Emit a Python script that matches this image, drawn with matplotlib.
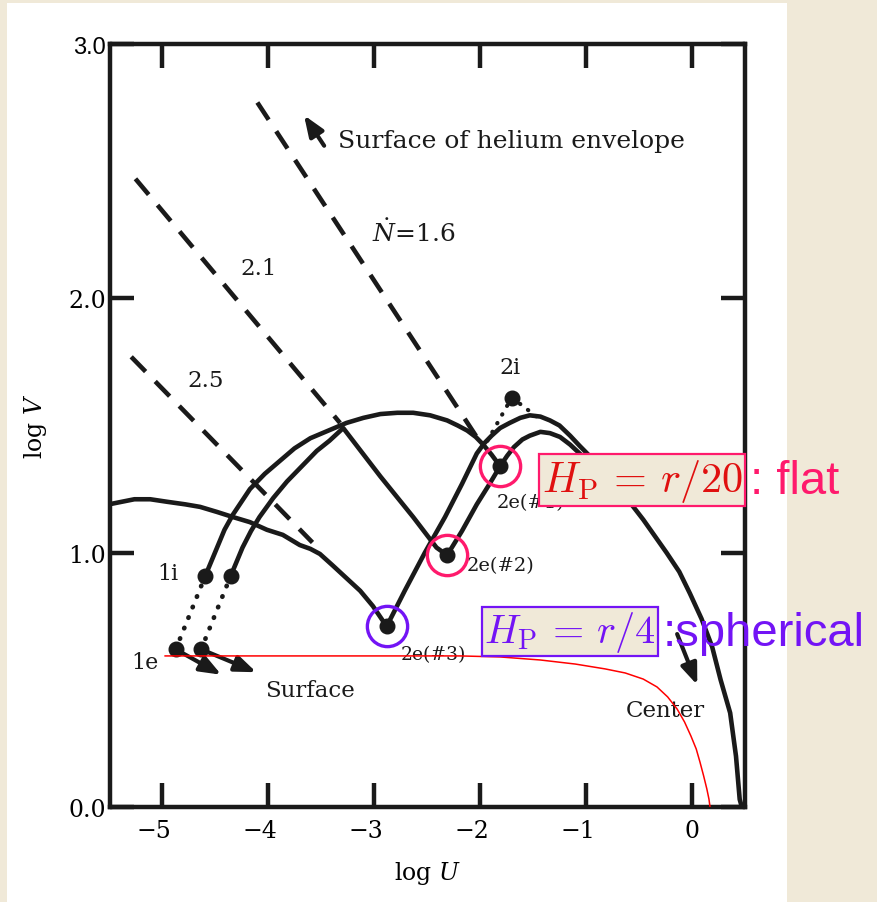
import matplotlib
matplotlib.use("Agg")
import matplotlib.pyplot as plt
from matplotlib.patches import Rectangle
from matplotlib.transforms import ScaledTranslation

# Envelope branches (log U, log V)
env3_logu = [-5.50, -5.38, -5.26, -5.11, -4.95, -4.78, -4.64, -4.48, -4.33, -4.17,
             -4.01, -3.86, -3.70, -3.60, -3.51, -3.39, -3.26, -3.13, -3.01, -2.88]
env3_logv = [1.19, 1.20, 1.21, 1.21, 1.20, 1.19, 1.18, 1.16, 1.14, 1.12,
             1.09, 1.07, 1.03, 1.015, 0.995, 0.95, 0.90, 0.85, 0.79, 0.71]

env1_logu = [-4.59, -4.53, -4.48, -4.41, -4.33, -4.25, -4.17, -4.03, -3.89, -3.75, -3.60, -3.43,
             -3.26, -3.10, -2.94, -2.78, -2.63, -2.47, -2.31, -2.21, -2.12, -2.04, -1.97, -1.89, -1.81]
env1_logv = [0.91, 0.97, 1.02, 1.09, 1.15, 1.20, 1.25, 1.31, 1.36, 1.41, 1.45, 1.48,
             1.51, 1.53, 1.545, 1.55, 1.55, 1.54, 1.52, 1.50, 1.48, 1.455, 1.425, 1.385, 1.34]

env2_logu = [-4.35, -4.29, -4.24, -4.16, -4.08, -3.95, -3.82, -3.68, -3.54, -3.42, -3.29,
             -2.94, -2.63, -2.41, -2.31]
env2_logv = [0.91, 0.97, 1.02, 1.085, 1.14, 1.215, 1.28, 1.34, 1.40, 1.44, 1.49,
             1.30, 1.14, 1.02, 0.99]

# Core branches from 2e towards the center
core3_logu = [-2.88, -2.71, -2.52, -2.33, -2.17, -2.03, -1.96, -1.89, -1.81, -1.72, -1.62,
              -1.53, -1.43, -1.34, -1.25, -1.15, -1.06, -0.93, -0.80, -0.68, -0.59, -0.46,
              -0.35, -0.24, -0.12, -0.02, 0.09, 0.19, 0.27, 0.36, 0.415, 0.45, 0.47]
core3_logv = [0.71, 0.85, 1.00, 1.14, 1.27, 1.39, 1.43, 1.46, 1.49, 1.51, 1.53,
              1.54, 1.535, 1.52, 1.50, 1.46, 1.42, 1.365, 1.305, 1.245, 1.20, 1.13,
              1.065, 1.00, 0.925, 0.84, 0.74, 0.63, 0.50, 0.37, 0.20, 0.03, 0.0]

core2_logu = [-2.31, -2.17, -2.03, -1.91, -1.81, -1.745, -1.68, -1.60, -1.53, -1.43,
              -1.34, -1.245, -1.15, -1.06, -0.94, -0.82]
core2_logv = [0.99, 1.085, 1.19, 1.27, 1.34, 1.38, 1.415, 1.445, 1.46, 1.475,
              1.47, 1.455, 1.425, 1.39, 1.345, 1.30]

# Surface-of-helium-envelope lines for each N
n_labels = ["1.6", "2.1", "2.5"]
n_logu = [[-4.10, -2.00], [-5.25, -3.32], [-5.29, -3.58]]
n_logv = [[2.77, 1.435], [2.47, 1.51], [1.77, 1.04]]

# Fitting points: 1e, 1e, 1i, 1i, 2e(#1), 2e(#2), 2e(#3), 2i
pt_names = ["1e", "1e", "1i", "1i", "2e(#1)", "2e(#2)", "2e(#3)", "2i"]
pt_logu = [-4.87, -4.63, -4.59, -4.35, -1.81, -2.31, -2.88, -1.70]
pt_logv = [0.62, 0.62, 0.91, 0.91, 1.34, 0.99, 0.71, 1.61]

# Dotted connection through 2i
link2i_logu = [-1.93, -1.70, -1.45]
link2i_logv = [1.44, 1.61, 1.53]

# Reference curve H_P = r/4
ref_logu = [-4.97, -3.70, -2.19, -1.81, -1.43, -1.10, -0.82, -0.63, -0.46, -0.33, -0.23,
            -0.14, -0.07, -0.01, 0.04, 0.075, 0.11, 0.14, 0.16, 0.17]
ref_logv = [0.594, 0.594, 0.594, 0.59, 0.578, 0.562, 0.543, 0.527, 0.503, 0.472, 0.433,
            0.385, 0.334, 0.279, 0.228, 0.177, 0.122, 0.071, 0.031, 0.0]

xticks = [-5, -4, -3, -2, -1, 0]
yticks = [0.0, 1.0, 2.0, 3.0]

BEIGE = "#f0e9d8"
PINK = "#ff1a6c"
PURPLE = "#7314f5"
SERIF = "DejaVu Serif"
plt.rcParams["mathtext.fontset"] = "dejavuserif"

fig = plt.figure(figsize=(8.77, 9.03), dpi=100, facecolor=BEIGE)
fig.patches.append(Rectangle((7 / 877, 0), 780 / 877, 899 / 903, transform=fig.transFigure,
                             facecolor="white", edgecolor="none", zorder=-10))
ax = fig.add_axes([110 / 877, 1 - 808 / 903, 635 / 877, 763 / 903])
ax.set_facecolor("white")
ax.set_xlim(-5.49, 0.5)
ax.set_ylim(0, 3)

black = "#1a1a1a"
lw = 3.3
for u, v in [(env3_logu, env3_logv), (env1_logu, env1_logv), (env2_logu, env2_logv),
             (core3_logu, core3_logv), (core2_logu, core2_logv)]:
    ax.plot(u, v, color=black, lw=lw, solid_capstyle="round", solid_joinstyle="round")

for u, v in zip(n_logu, n_logv):
    ax.plot(u, v, color=black, lw=3.3, dashes=(4.5, 3.0), dash_capstyle="butt")

# 1e -> 1i dotted segments
for i in (0, 1):
    ax.plot([pt_logu[i], pt_logu[i + 2]], [pt_logv[i], pt_logv[i + 2]], color=black,
            lw=3.4, dashes=(0.1, 2.3), dash_capstyle="round")
ax.plot(link2i_logu, link2i_logv, color=black, lw=3.0, dashes=(0.1, 2.3), dash_capstyle="round")

ax.plot(pt_logu, pt_logv, "o", color=black, ms=10.5, zorder=4)

ax.plot(ref_logu, ref_logv, color="#ff0000", lw=1.1, zorder=5)

# circled interface points
ax.plot(pt_logu[4:6], pt_logv[4:6], "o", mfc="none", mec=PINK, mew=2.4, ms=29, zorder=6)
ax.plot(pt_logu[6], pt_logv[6], "o", mfc="none", mec=PURPLE, mew=2.4, ms=29, zorder=6)

# arrows
arrow = dict(arrowstyle="-|>,head_length=0.9,head_width=0.35", color=black, lw=3,
             shrinkA=0, shrinkB=0, mutation_scale=14)
ax.annotate("", xy=(-4.44, 0.52), xytext=(pt_logu[0], pt_logv[0]), arrowprops=arrow)
ax.annotate("", xy=(-4.11, 0.53), xytext=(pt_logu[1], pt_logv[1]), arrowprops=arrow)
ax.annotate("", xy=(0.05, 0.48), xytext=(-0.14, 0.68), arrowprops=arrow)
ax.annotate("", xy=(-3.66, 2.72), xytext=(-3.47, 2.60), arrowprops=arrow)

tk = dict(family=SERIF, color=black)
ax.text(-3.34, 2.62, "Surface of helium envelope", ha="left", va="center", fontsize=18, **tk)
ax.text(-3.02, 2.26, r"$\dot{N}$=" + n_labels[0], ha="left", va="center", fontsize=18, **tk)
ax.text(-4.09, 2.12, n_labels[1], ha="center", va="center", fontsize=16.5, **tk)
ax.text(-4.59, 1.68, n_labels[2], ha="center", va="center", fontsize=16.5, **tk)
ax.text(-1.72, 1.73, pt_names[7], ha="center", va="center", fontsize=16, **tk)
ax.text(-1.84, 1.20, pt_names[4], ha="left", va="center", fontsize=14, **tk)
ax.text(-2.13, 0.95, pt_names[5], ha="left", va="center", fontsize=14, **tk)
ax.text(-2.75, 0.60, pt_names[6], ha="left", va="center", fontsize=13.5, **tk)
ax.text(-5.16, 0.57, pt_names[0], ha="center", va="center", fontsize=16, **tk)
ax.text(-4.94, 0.92, pt_names[2], ha="center", va="center", fontsize=16, **tk)
ax.text(-3.60, 0.46, "Surface", ha="center", va="center", fontsize=16.5, **tk)
ax.text(-0.25, 0.38, "Center", ha="center", va="center", fontsize=16.5, **tk)

# scale-height annotations
ax.text(-0.47, 1.285, r"$H_{\rm P}\,=\,r/20$", ha="center", va="center", fontsize=30.5,
        color="#e0100f", math_fontfamily="cm", zorder=8,
        bbox=dict(boxstyle="square,pad=0.06", fc=BEIGE, ec=PINK, lw=1.6))
ax.text(0.55, 1.28, ": flat", ha="left", va="center", fontsize=34, color=PINK,
        family="Liberation Sans", zorder=8)
ax.text(-1.15, 0.69, r"$H_{\rm P}\,=\,r/4$", ha="center", va="center", fontsize=29,
        color=PURPLE, math_fontfamily="cm", zorder=8,
        bbox=dict(boxstyle="square,pad=0.05", fc=BEIGE, ec=PURPLE, lw=1.6))
ax.text(-0.275, 0.685, ":spherical", ha="left", va="center", fontsize=34, color=PURPLE,
        family="Liberation Sans", zorder=8)

# frame and ticks
for s in ax.spines.values():
    s.set_linewidth(3.2)
    s.set_color(black)
ax.set_xticks(xticks)
ax.set_xticklabels(["\u2212%d" % -t if t < 0 else "%d" % t for t in xticks], family=SERIF, fontsize=17)
ax.set_yticks(yticks)
ax.set_yticklabels(["%.1f" % t for t in yticks], family=SERIF, fontsize=17)
ax.tick_params(direction="in", length=17, width=3.2, color=black, top=True, right=True)
ax.tick_params(axis="x", pad=9)
ax.tick_params(axis="y", pad=3)
ax.get_yticklabels()[-1].set_family("Liberation Sans")
shift = ScaledTranslation(-0.08, 0, fig.dpi_scale_trans)
for lab, t in zip(ax.get_xticklabels(), xticks):
    if t < 0:
        lab.set_transform(lab.get_transform() + shift)

ax.set_xlabel(r"log $U$", family=SERIF, fontsize=17, labelpad=12)
ax.set_ylabel(r"log $V$", family=SERIF, fontsize=17, labelpad=14)

fig.savefig("out.png", dpi=100, facecolor=BEIGE)
